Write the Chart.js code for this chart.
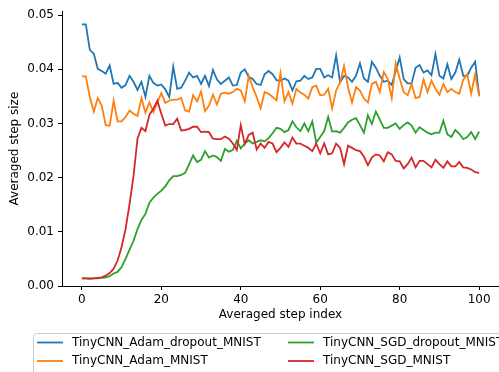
<!DOCTYPE html>
<html>
<head>
<meta charset="utf-8">
<script src="https://cdn.jsdelivr.net/npm/chart.js@4"></script>
<style>
  body { margin: 0; background: #fff; }
  canvas { display: block; }
</style>
</head>
<body>
<canvas id="chart" width="499" height="372"></canvas>
<script>
// x axis: averaged step index 0..100
const steps = Array.from({ length: 101 }, (_, i) => i);
const xTicks = [0, 20, 40, 60, 80, 100];
const yTicks = [0.00, 0.01, 0.02, 0.03, 0.04, 0.05];

const seriesNames = [
    'TinyCNN_Adam_dropout_MNIST',
    'TinyCNN_Adam_MNIST',
    'TinyCNN_SGD_dropout_MNIST',
    'TinyCNN_SGD_MNIST'
];

const adamDropout = [
    0.0483, 0.0483, 0.0436, 0.0429, 0.0401, 0.0397, 0.0392, 0.0407, 0.0373, 0.0375,
    0.0366, 0.0371, 0.0388, 0.0377, 0.0362, 0.0377, 0.0349, 0.0388, 0.0375, 0.0370,
    0.0372, 0.0363, 0.0349, 0.0405, 0.0364, 0.0366, 0.0379, 0.0394, 0.0385, 0.0388,
    0.0373, 0.0388, 0.0369, 0.0399, 0.0381, 0.0373, 0.0379, 0.0385, 0.0370, 0.0371,
    0.0394, 0.0400, 0.0386, 0.0382, 0.0373, 0.0371, 0.0391, 0.0397, 0.0391, 0.0380,
    0.0379, 0.0383, 0.0379, 0.0361, 0.0378, 0.0379, 0.0388, 0.0382, 0.0385, 0.0401,
    0.0401, 0.0385, 0.0389, 0.0385, 0.0426, 0.0376, 0.0388, 0.0385, 0.0377, 0.0388,
    0.0411, 0.0383, 0.0377, 0.0414, 0.0403, 0.0388, 0.0377, 0.0379, 0.0371, 0.0397,
    0.0422, 0.0382, 0.0374, 0.0374, 0.0403, 0.0408, 0.0394, 0.0398, 0.0389, 0.0428,
    0.0388, 0.0383, 0.0409, 0.0382, 0.0394, 0.0418, 0.0388, 0.0388, 0.0403, 0.0414,
    0.0352
];

const adam = [
    0.0387, 0.0387, 0.0349, 0.0322, 0.0347, 0.0333, 0.0297, 0.0296, 0.0342, 0.0304,
    0.0304, 0.0312, 0.0324, 0.0318, 0.0314, 0.0347, 0.0320, 0.0339, 0.0321, 0.0339,
    0.0356, 0.0338, 0.0342, 0.0344, 0.0344, 0.0347, 0.0324, 0.0322, 0.0352, 0.0341,
    0.0359, 0.0323, 0.0333, 0.0353, 0.0335, 0.0355, 0.0357, 0.0355, 0.0358, 0.0364,
    0.0361, 0.0341, 0.0388, 0.0367, 0.0349, 0.0328, 0.0358, 0.0355, 0.0349, 0.0343,
    0.0393, 0.0341, 0.0358, 0.0337, 0.0364, 0.0357, 0.0353, 0.0346, 0.0367, 0.0370,
    0.0352, 0.0353, 0.0364, 0.0328, 0.0361, 0.0376, 0.0406, 0.0367, 0.0339, 0.0367,
    0.0361, 0.0346, 0.0339, 0.0373, 0.0377, 0.0358, 0.0395, 0.0382, 0.0347, 0.0411,
    0.0383, 0.0358, 0.0352, 0.0373, 0.0347, 0.0349, 0.0381, 0.0358, 0.0379, 0.0364,
    0.0353, 0.0373, 0.0358, 0.0364, 0.0358, 0.0355, 0.0381, 0.0391, 0.0355, 0.0391,
    0.0350
];

const sgdDropout = [
    0.0014, 0.0014, 0.0013, 0.0014, 0.0014, 0.0015, 0.0016, 0.0018, 0.0023, 0.0026,
    0.0035, 0.0050, 0.0067, 0.0083, 0.0105, 0.0122, 0.0133, 0.0154, 0.0163, 0.0170,
    0.0176, 0.0184, 0.0195, 0.0203, 0.0203, 0.0205, 0.0209, 0.0225, 0.0241, 0.0229,
    0.0233, 0.0249, 0.0237, 0.0241, 0.0238, 0.0231, 0.0253, 0.0248, 0.0251, 0.0268,
    0.0254, 0.0263, 0.0269, 0.0263, 0.0266, 0.0269, 0.0267, 0.0273, 0.0282, 0.0292,
    0.0290, 0.0284, 0.0288, 0.0304, 0.0293, 0.0286, 0.0300, 0.0286, 0.0304, 0.0265,
    0.0275, 0.0286, 0.0312, 0.0285, 0.0286, 0.0283, 0.0292, 0.0302, 0.0307, 0.0310,
    0.0297, 0.0283, 0.0315, 0.0299, 0.0322, 0.0307, 0.0292, 0.0292, 0.0296, 0.0300,
    0.0290, 0.0297, 0.0302, 0.0296, 0.0283, 0.0293, 0.0288, 0.0283, 0.0280, 0.0283,
    0.0283, 0.0305, 0.0280, 0.0275, 0.0288, 0.0281, 0.0271, 0.0275, 0.0284, 0.0271,
    0.0285
];

const sgd = [
    0.0014, 0.0014, 0.0014, 0.0014, 0.0015, 0.0016, 0.0019, 0.0024, 0.0032, 0.0047,
    0.0072, 0.0105, 0.0151, 0.0203, 0.0272, 0.0292, 0.0286, 0.0316, 0.0327, 0.0342,
    0.0318, 0.0296, 0.0299, 0.0299, 0.0309, 0.0287, 0.0288, 0.0290, 0.0294, 0.0294,
    0.0284, 0.0285, 0.0284, 0.0272, 0.0271, 0.0271, 0.0276, 0.0272, 0.0263, 0.0251,
    0.0297, 0.0262, 0.0279, 0.0283, 0.0252, 0.0263, 0.0255, 0.0266, 0.0263, 0.0247,
    0.0255, 0.0265, 0.0257, 0.0274, 0.0263, 0.0263, 0.0259, 0.0255, 0.0249, 0.0263,
    0.0245, 0.0263, 0.0243, 0.0245, 0.0263, 0.0255, 0.0225, 0.0259, 0.0255, 0.0251,
    0.0249, 0.0239, 0.0223, 0.0237, 0.0243, 0.0241, 0.0230, 0.0247, 0.0243, 0.0231,
    0.0230, 0.0217, 0.0225, 0.0237, 0.0219, 0.0231, 0.0231, 0.0225, 0.0219, 0.0233,
    0.0225, 0.0218, 0.0230, 0.0221, 0.0221, 0.0229, 0.0219, 0.0218, 0.0215, 0.0210,
    0.0209
];

const seriesValues = [adamDropout, adam, sgdDropout, sgd];
const colors = ['#1f77b4', '#ff7f0e', '#2ca02c', '#d62728'];

const FONT = "'DejaVu Sans', sans-serif";
Chart.defaults.font.family = FONT;
Chart.defaults.font.size = 12;
Chart.defaults.color = '#000';

// matplotlib style legend below the axes, two columns, column-major order
const mplLegend = {
    id: 'mplLegend',
    afterDraw(chart) {
        const ctx = chart.ctx;
        const ds = chart.data.datasets;
        ctx.save();
        // frame
        const bx = 33.5, by = 333.5, bw = 490, bh = 42, r = 3;
        ctx.beginPath();
        ctx.moveTo(bx + r, by);
        ctx.lineTo(bx + bw - r, by);
        ctx.quadraticCurveTo(bx + bw, by, bx + bw, by + r);
        ctx.lineTo(bx + bw, by + bh - r);
        ctx.quadraticCurveTo(bx + bw, by + bh, bx + bw - r, by + bh);
        ctx.lineTo(bx + r, by + bh);
        ctx.quadraticCurveTo(bx, by + bh, bx, by + bh - r);
        ctx.lineTo(bx, by + r);
        ctx.quadraticCurveTo(bx, by, bx + r, by);
        ctx.closePath();
        ctx.fillStyle = 'rgba(255,255,255,0.8)';
        ctx.fill();
        ctx.strokeStyle = '#cccccc';
        ctx.lineWidth = 1;
        ctx.stroke();

        const cols = [37, 288];
        const rows = [342.5, 361];
        ctx.font = '12px ' + FONT;
        ctx.textBaseline = 'middle';
        ds.forEach((d, i) => {
            const x = cols[Math.floor(i / 2)];
            const y = rows[i % 2];
            ctx.strokeStyle = d.borderColor;
            ctx.lineWidth = 1.8;
            ctx.beginPath();
            ctx.moveTo(x, y);
            ctx.lineTo(x + 26, y);
            ctx.stroke();
            ctx.fillStyle = '#000';
            ctx.fillText(d.label, x + 35, y);
        });
        ctx.restore();
    }
};

new Chart(document.getElementById('chart'), {
    type: 'line',
    data: {
        datasets: seriesNames.map((name, k) => ({
            label: name,
            data: steps.map((s, i) => ({ x: s, y: seriesValues[k][i] })),
            borderColor: colors[k],
            backgroundColor: colors[k],
            borderWidth: 1.8,
            pointRadius: 0,
            tension: 0,
            fill: false,
            order: 4 - k
        }))
    },
    options: {
        responsive: false,
        animation: false,
        events: [],
        layout: { padding: { top: 8, right: 0, bottom: 46, left: 0 } },
        plugins: {
            legend: { display: false },
            tooltip: { enabled: false }
        },
        scales: {
            x: {
                type: 'linear',
                min: -5,
                max: 105,
                afterBuildTicks: s => { s.ticks = xTicks.map(v => ({ value: v })); },
                afterFit: s => { s.height = 40; },
                grid: { drawOnChartArea: false, drawTicks: true, tickLength: 4, color: '#000', lineWidth: 1 },
                border: { display: true, color: '#000', width: 1 },
                ticks: { padding: 3, color: '#000', maxRotation: 0 },
                title: { display: true, text: 'Averaged step index', color: '#000', padding: { top: 2, bottom: 4 } }
            },
            y: {
                type: 'linear',
                min: 0,
                max: 0.05073,
                afterBuildTicks: s => { s.ticks = yTicks.map(v => ({ value: v })); },
                afterFit: s => { s.width = 62; },
                grid: { drawOnChartArea: false, drawTicks: true, tickLength: 4, color: '#000', lineWidth: 1 },
                border: { display: true, color: '#000', width: 1 },
                ticks: { padding: 4, color: '#000', callback: v => v.toFixed(2) },
                title: { display: true, text: 'Averaged step size', color: '#000', padding: { top: 8, bottom: 4 } }
            }
        }
    },
    plugins: [mplLegend]
});
</script>
</body>
</html>
